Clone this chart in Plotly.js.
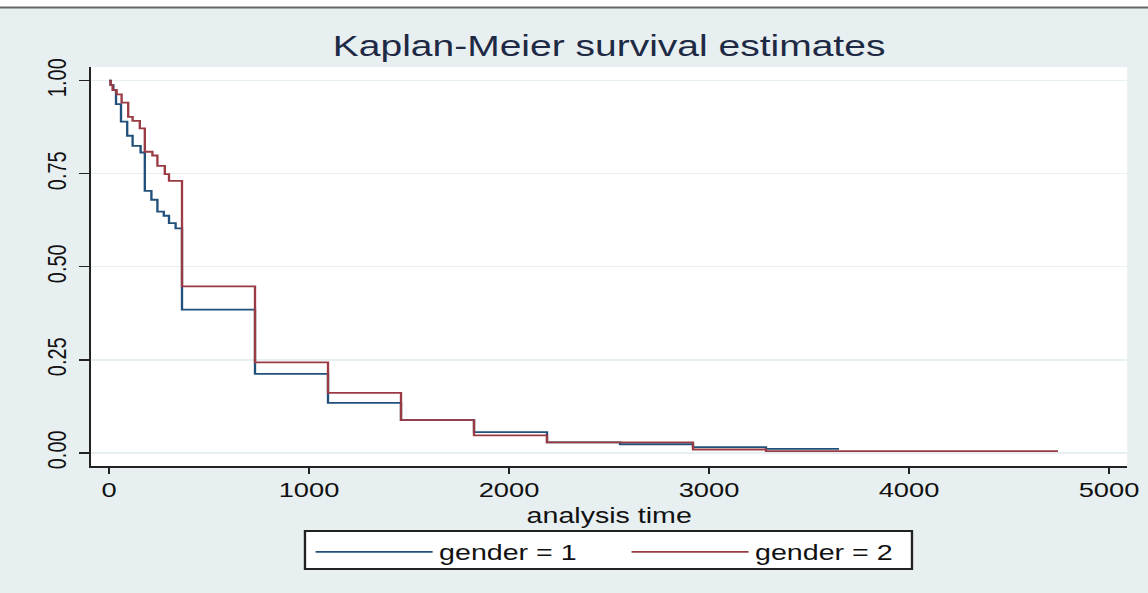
<!DOCTYPE html>
<html>
<head>
<meta charset="utf-8">
<script src="https://cdn.plot.ly/plotly-3.0.1.min.js"></script>
<style>
html,body{margin:0;padding:0;background:#e8eff1;overflow:hidden;}
#wrap{width:1148px;height:593px;overflow:hidden;}
#chart{width:883px;height:593px;transform:scale(1.30011,1);transform-origin:0 0;}
</style>
</head>
<body>
<div id="wrap"><div id="chart"></div></div>
<script>
// Kaplan-Meier estimates
const seriesNames = ['gender = 1', 'gender = 2'];

const timeGender1 = [0, 8, 22, 35, 60, 91, 118, 158, 179, 212, 242, 274, 300, 333, 365, 730, 1095, 1460, 1825, 2190, 2555, 2920, 3285, 3650];
const survGender1 = [1.0, 0.988, 0.975, 0.937, 0.890, 0.852, 0.825, 0.807, 0.704, 0.680, 0.648, 0.637, 0.617, 0.603, 0.385, 0.212, 0.134, 0.088, 0.0555, 0.028, 0.023, 0.0152, 0.0107, 0.0107];

const timeGender2 = [0, 8, 18, 38, 63, 96, 118, 154, 179, 217, 242, 279, 300, 365, 730, 1095, 1460, 1825, 2190, 2920, 3285, 4745];
const survGender2 = [1.0, 0.988, 0.975, 0.963, 0.941, 0.903, 0.892, 0.872, 0.809, 0.799, 0.771, 0.749, 0.731, 0.447, 0.243, 0.161, 0.088, 0.0466, 0.028, 0.0089, 0.0045, 0.0045];

const xTickVals = [0, 1000, 2000, 3000, 4000, 5000];
const xTickLabels = ['0', '1000', '2000', '3000', '4000', '5000'];
const yTickVals = [0, 0.25, 0.5, 0.75, 1];
const yTickLabels = ['0.00', '0.25', '0.50', '0.75', '1.00'];
const chartTitle = 'Kaplan-Meier survival estimates';
const xAxisTitle = 'analysis time';

const FONT = 'Liberation Sans, Arial, Helvetica, sans-serif';

const traces = [
  {x: timeGender1, y: survGender1, name: seriesNames[0], type: 'scatter', mode: 'lines',
   line: {shape: 'hv', color: '#21507a', width: 1.8}},
  {x: timeGender2, y: survGender2, name: seriesNames[1], type: 'scatter', mode: 'lines',
   line: {shape: 'hv', color: '#9a3b43', width: 1.8}}
];

const layout = {
  width: 883, height: 593,
  margin: {l: 70, r: 16, t: 67, b: 127, pad: 0},
  paper_bgcolor: '#e8eff1',
  plot_bgcolor: '#ffffff',
  font: {family: FONT, color: '#111111'},
  title: {
    text: chartTitle,
    font: {family: FONT, size: 30, color: '#1e2a44'},
    xref: 'paper', x: 0.5, xanchor: 'center',
    yref: 'container', y: 0.9241, yanchor: 'middle'
  },
  xaxis: {
    range: [-90, 5091],
    tickvals: xTickVals, ticktext: xTickLabels,
    ticklabelstandoff: -2,
    showgrid: false, zeroline: false,
    showline: true, linecolor: '#222222', linewidth: 2,
    ticks: 'outside', ticklen: 6, tickwidth: 1.6, tickcolor: '#222222',
    tickfont: {family: FONT, size: 21, color: '#111111'},
    fixedrange: true
  },
  yaxis: {
    range: [-0.0355, 1.0368],
    tickvals: yTickVals, ticktext: yTickLabels,
    tickangle: -90,
    ticklabelstandoff: 2,
    showgrid: true, gridcolor: '#e6eff2', gridwidth: 1.5,
    zeroline: false,
    showline: true, linecolor: '#222222', linewidth: 1.5,
    ticks: 'outside', ticklen: 8, tickwidth: 1.5, tickcolor: '#222222',
    tickfont: {family: FONT, size: 20, color: '#111111'},
    fixedrange: true
  },
  showlegend: true,
  legend: {
    orientation: 'h',
    x: 0.2105, xanchor: 'left',
    y: -0.1629, yanchor: 'top',
    bgcolor: 'rgba(0,0,0,0)', borderwidth: 0,
    font: {family: FONT, size: 22, color: '#111111'},
    itemwidth: 90,
    entrywidth: 138,
    traceorder: 'normal'
  },
  annotations: [
    {text: xAxisTitle, xref: 'paper', yref: 'paper', x: 0.5, y: -0.0877,
     xanchor: 'center', yanchor: 'top', showarrow: false,
     font: {family: FONT, size: 22, color: '#111111'}}
  ],
  shapes: [
    {type: 'rect', xref: 'paper', yref: 'paper', x0: -0.09, x1: 1.03, y0: 1.1504, y1: 1.17,
     fillcolor: '#ffffff', line: {width: 0}},
    {type: 'line', xref: 'paper', yref: 'paper', x0: -0.09, x1: 1.03, y0: 1.1491, y1: 1.1491,
     line: {color: '#666666', width: 2}},
    {type: 'rect', xref: 'paper', yref: 'paper', x0: 0.2065, x1: 0.7923, y0: -0.2581, y1: -0.1629,
     fillcolor: '#ffffff', line: {color: '#222222', width: 1.8}}
  ]
};

Plotly.newPlot('chart', traces, layout, {staticPlot: true, displayModeBar: false});
</script>
</body>
</html>
